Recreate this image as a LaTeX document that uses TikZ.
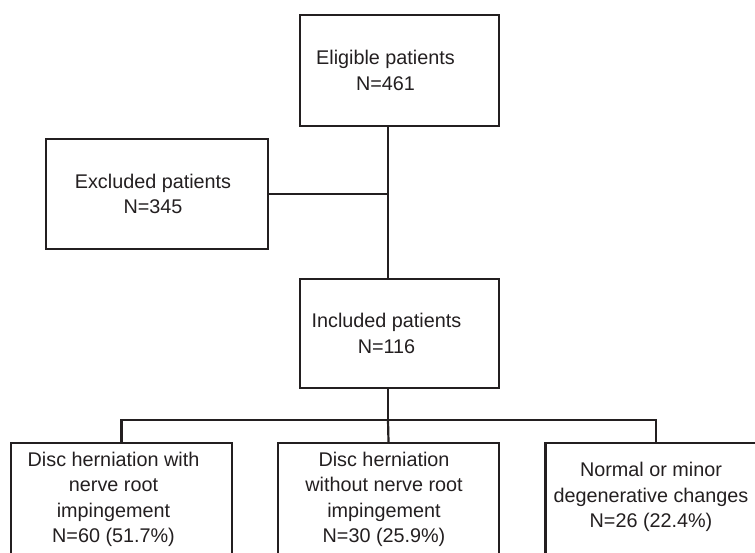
\documentclass[tikz,border=0pt]{standalone}
\usepackage{fontspec}
\setmainfont{Liberation Sans}
\definecolor{linec}{HTML}{231F20}
\definecolor{textc}{HTML}{231F20}
\begin{document}
\begin{tikzpicture}[x=1pt,y=-1pt,
  box/.style={draw=linec, line width=2.2pt, rectangle, inner sep=0pt},
  txt/.style={align=center, font=\fontsize{19.8}{25.5}\selectfont, text=textc, inner sep=0pt},
  conn/.style={draw=linec, line width=2.2pt}]
\useasboundingbox (0,0) rectangle (755,552);
\clip (0,0) rectangle (755,552);
% boxes
\node[box, minimum width=199pt, minimum height=111pt] (elig) at (399.5,70.5) {};
\node[box, minimum width=222pt, minimum height=110pt] (excl) at (157,194) {};
\node[box, minimum width=199pt, minimum height=109pt] (incl) at (399.5,333.5) {};
\node[box, minimum width=221pt, minimum height=113pt] (left) at (121.5,499.5) {};
\node[box, minimum width=221pt, minimum height=113pt] (mid) at (388.5,499.5) {};
\node[box, minimum width=221pt, minimum height=113pt] (right) at (656,499.5) {};
% texts
\node[txt] (eligt) at ([xshift=-14pt]elig.center) {Eligible patients\\N=461};
\node[txt] (exclt) at ([xshift=-4pt]excl.center) {Excluded patients\\N=345};
\node[txt] (inclt) at ([xshift=-13pt]incl.center) {Included patients\\N=116};
\node[txt] (leftt) at ([xshift=-8pt]left.center) {Disc herniation with\\nerve root\\impingement\\N=60 (51.7\%)};
\node[txt] (midt) at ([xshift=-4.5pt]mid.center) {Disc herniation\\without nerve root\\impingement\\N=30 (25.9\%)};
\node[txt] (rightt) at ([xshift=-5pt,yshift=2.5pt]right.center) {Normal or minor\\degenerative changes\\N=26 (22.4\%)};
% connectors
\coordinate (j1) at (388,194);
\coordinate (bar) at (388,420);
\draw[conn] (elig.south -| j1) -- (incl.north -| j1);
\draw[conn] (excl.east) -- (j1);
\draw[conn] (incl.south -| bar) -- (bar);
\draw[conn] (left.north) |- (bar) -| (right.north);
\draw[conn] (bar) -- (mid.north);
\end{tikzpicture}
\end{document}
